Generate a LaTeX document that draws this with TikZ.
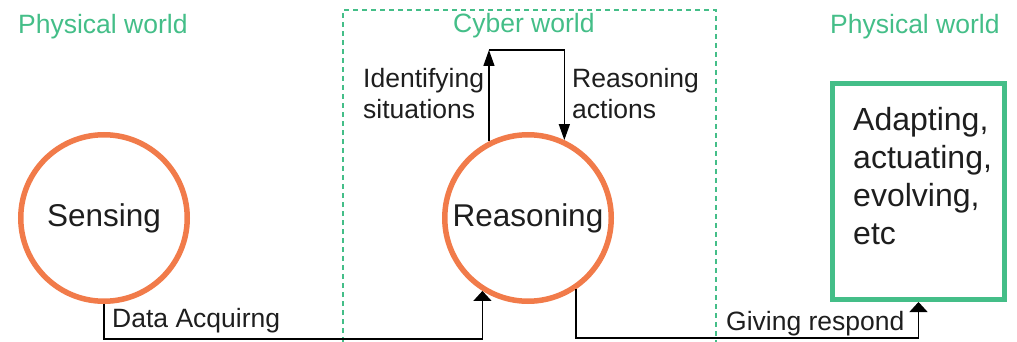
\documentclass[tikz,border=0pt]{standalone}
\usepackage{fontspec}
\setmainfont{Liberation Sans}
\usetikzlibrary{arrows.meta,calc}

\definecolor{ringorange}{RGB}{241,123,74}
\definecolor{worldgreen}{RGB}{68,190,136}
\definecolor{ink}{RGB}{30,30,30}

\tikzset{
  ring/.style={circle, draw=ringorange, line width=5.5pt, minimum size=166.5pt,
    inner sep=0pt, text=ink, font=\fontsize{31.5}{36}\selectfont},
  actbox/.style={rectangle, draw=worldgreen, line width=5pt, minimum width=172pt,
    minimum height=216pt, inner sep=0pt},
  worldlabel/.style={anchor=base west, inner sep=0pt, text=worldgreen,
    font=\fontsize{26.5}{31}\selectfont},
  flowlabel/.style={inner sep=0pt, text=ink, align=left,
    font=\fontsize{26.5}{31.5}\selectfont},
  flow/.style={draw=black, line width=1.4pt},
  loopflow/.style={flow, -{Triangle[width=11pt,length=16pt]}},
  baseflow/.style={flow, -{Triangle[width=18pt,length=10pt]}},
}

\begin{document}
\begin{tikzpicture}[x=1pt,y=-1pt]
  \useasboundingbox (0,0) rectangle (1017,342);

  % the cyber world frame, open towards the bottom
  \draw[worldgreen, line width=1.2pt, dash pattern=on 5pt off 4pt]
    (343,342) -- (343,10) -- (716,10) -- (716,342);

  % world captions
  \node[worldlabel] (physL) at (18,34) {Physical world};
  \node[worldlabel] (cyber) at (453,33) {Cyber world};
  \node[worldlabel] (physR) at (830,34) {Physical world};

  % main stages
  \node[ring] (sense) at (104,218) {Sensing};
  \node[ring] (reas)  at (528,218) {Reasoning};
  \node[actbox] (adapt) at (918.5,191.5) {};
  \node[flowlabel, anchor=north west, font=\fontsize{32}{38}\selectfont]
    (adapttxt) at (853,107) {Adapting,\\actuating,\\evolving,\\etc};

  % reasoning loop
  \coordinate (looptop) at (0,50);
  \draw[loopflow] (reas.117.4) -- (reas.117.4 |- looptop);
  \draw[loopflow] (reas.117.4 |- looptop) -- (reas.65.3 |- looptop) -- (reas.65.3);
  \node[flowlabel, anchor=north west] (ident) at (363,68) {Identifying\\situations};
  \node[flowlabel, anchor=north west] (ract) at (572,68) {Reasoning\\actions};

  % data acquisition into reasoning
  \coordinate (lowA) at (0,339);
  \draw[baseflow] (sense.south) -- (sense.south |- lowA) -| (reas.238);
  \node[flowlabel, anchor=base west] (acq) at (112,327) {Data Acquirng};

  % response out to the physical world
  \coordinate (lowB) at (0,338);
  \draw[baseflow] (reas.304.4) -- (reas.304.4 |- lowB) -| (adapt.south);
  \node[flowlabel, anchor=base west] (resp) at (726,330) {Giving respond};
\end{tikzpicture}
\end{document}
